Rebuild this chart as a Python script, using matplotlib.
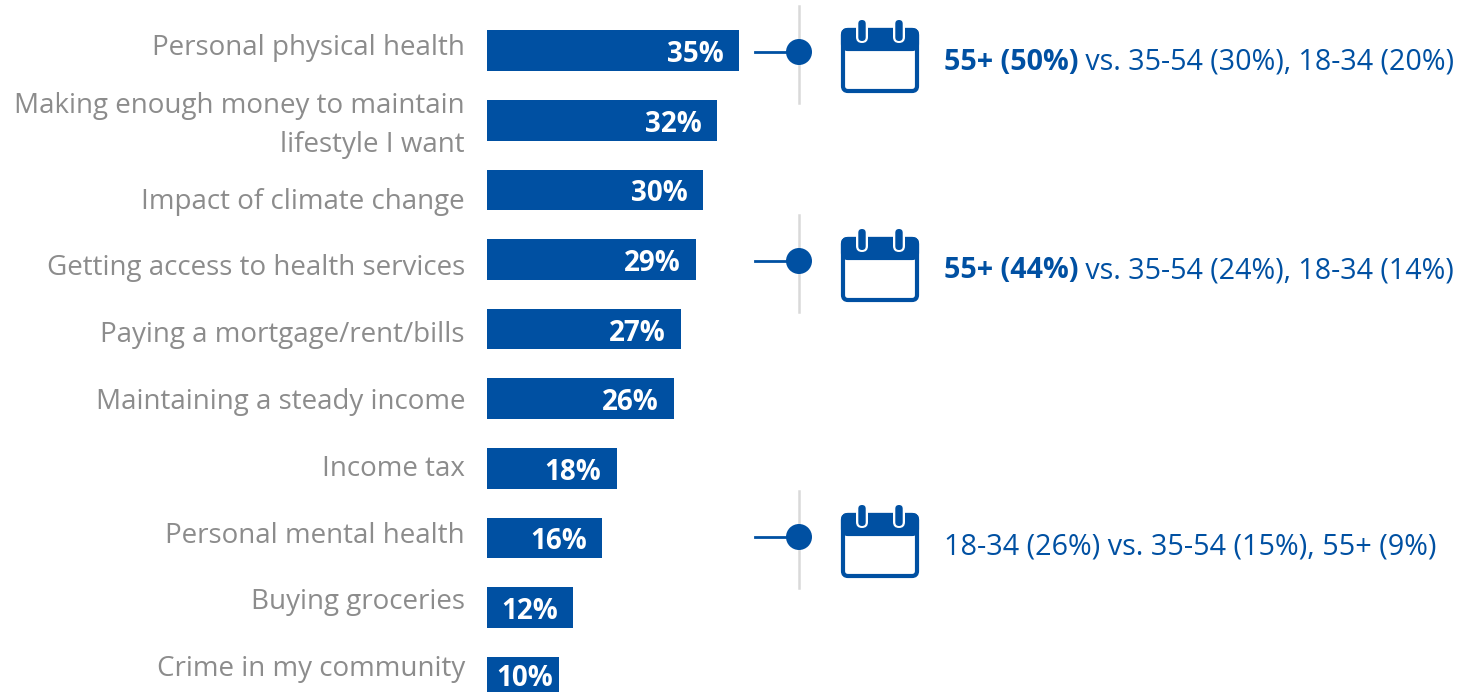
import matplotlib
matplotlib.use("Agg")
import matplotlib.pyplot as plt
from matplotlib.patches import FancyBboxPatch, Rectangle, Circle

# values
categories = ["Personal physical health", "Making enough money to maintain\nlifestyle I want",
              "Impact of climate change", "Getting access to health services",
              "Paying a mortgage/rent/bills", "Maintaining a steady income", "Income tax",
              "Personal mental health", "Buying groceries", "Crime in my community"]
values = [35, 32, 30, 29, 27, 26, 18, 16, 12, 10]

# bold part, regular part
callout_bold = ["55+ (50%)", "55+ (44%)", ""]
callout_rest = [" vs. 35-54 (30%), 18-34 (20%)", " vs. 35-54 (24%), 18-34 (14%)",
                "18-34 (26%) vs. 35-54 (15%), 55+ (9%)"]

W, H = 1459, 692
BLUE = "#0050a2"
GREY = "#8c8c8c"
FONT = "Open Sans"

# the labels and callouts are not quite level with the bars in the original
label_y = [48, 125.5, 202, 268, 335, 402, 469, 536, 602, 669]
callout_y = [52, 261, 537]

fig = plt.figure(figsize=(W / 100, H / 100), dpi=100)

# bars: 7.2 px per percent, 69.6 px per row
ax = fig.add_axes([0, 0, 1, 1])
ax.set_xlim(-487 / 7.2, (W - 487) / 7.2)
ax.set_ylim((H - 50.7) / 69.6, -50.7 / 69.6)
ax.axis("off")
rows = list(range(len(values)))
ax.barh(rows, values, height=40.5 / 69.6, color=BLUE)
for r, v in zip(rows, values):
    # last bar is too short for the usual inset, and it runs off the bottom
    last = r == rows[-1]
    offset = (-6, -1.5) if last else (-15.5, -4)
    ax.annotate(f"{v}%", (v, r), xytext=offset, textcoords="offset pixels",
                ha="right", va="center", color="white", fontsize=20,
                fontweight="bold", family=FONT)

# overlay in pixels for labels and the callouts
ov = fig.add_axes([0, 0, 1, 1])
ov.set_xlim(0, W)
ov.set_ylim(H, 0)
ov.axis("off")
ov.patch.set_alpha(0)

for lab, y in zip(categories, label_y):
    ov.text(465, y, lab, ha="right", va="center", color=GREY, fontsize=20,
            family=FONT, linespacing=1.5, multialignment="right")


def calendar(c):
    # c is the height of the dot
    ov.add_patch(FancyBboxPatch((843, c - 22), 74, 61, boxstyle="round,pad=0,rounding_size=5",
                                fc="white", ec=BLUE, lw=3, zorder=3))
    ov.add_patch(FancyBboxPatch((843, c - 22), 74, 19, boxstyle="round,pad=0,rounding_size=5",
                                fc=BLUE, ec=BLUE, lw=3, zorder=3))
    ov.add_patch(Rectangle((843, c - 9), 74, 7, fc=BLUE, ec="none", zorder=3))
    for rx in (862, 899):
        # white halo under each ring
        ov.add_patch(FancyBboxPatch((rx - 6, c - 32), 12, 23, boxstyle="round,pad=0,rounding_size=6",
                                    fc="white", ec="none", zorder=3.5))
        ov.add_patch(FancyBboxPatch((rx - 3.7, c - 32), 7.4, 21, boxstyle="round,pad=0,rounding_size=3.7",
                                    fc=BLUE, ec="none", zorder=4))


for c, bold, rest in zip(callout_y, callout_bold, callout_rest):
    ov.plot([799, 799], [c - 46, c + 51], color="#d9d9d9", lw=1.8, zorder=1)
    ov.plot([755, 799], [c, c], color=BLUE, lw=2, zorder=2)
    ov.add_patch(Circle((799, c), 13, fc=BLUE, ec="none", zorder=2))
    calendar(c)
    ty = c + 10
    if bold:
        t = ov.text(944, ty, bold, color=BLUE, fontsize=20.6, fontweight="bold", family=FONT, va="center")
        ov.annotate(rest, xy=(1, 0.5), xycoords=t, va="center", color=BLUE, fontsize=20.6, family=FONT)
    else:
        ov.text(944, ty, rest, color=BLUE, fontsize=20.7, family=FONT, va="center")

fig.savefig("out.png", dpi=100)
